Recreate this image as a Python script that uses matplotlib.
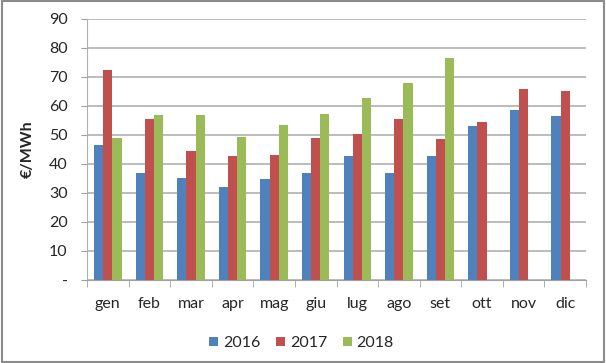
import matplotlib
matplotlib.use("Agg")
import matplotlib.pyplot as plt
import numpy as np
from matplotlib.patches import Rectangle

months = ["gen", "feb", "mar", "apr", "mag", "giu", "lug", "ago", "set", "ott", "nov", "dic"]
v2016 = [46.5, 37.0, 35.1, 32.1, 34.7, 36.8, 42.8, 37.0, 42.8, 53.2, 58.5, 56.5]
v2017 = [72.4, 55.6, 44.5, 42.8, 43.1, 49.0, 50.4, 55.6, 48.7, 54.6, 66.0, 65.2]
v2018 = [49.0, 57.0, 57.0, 49.4, 53.5, 57.3, 62.6, 67.9, 76.6]
series = [("2016", v2016, "#4F81BD"), ("2017", v2017, "#C0504D"), ("2018", v2018, "#9BBB59")]
yticks = [0, 10, 20, 30, 40, 50, 60, 70, 80, 90]
ytick_labels = ["-", "10", "20", "30", "40", "50", "60", "70", "80", "90"]

plt.rcParams['font.family'] = ['Lato', 'DejaVu Sans']
txt = '#262626'

fig = plt.figure(figsize=(6.06, 3.63), dpi=100)
ax = fig.add_axes([0.1436, 0.2287, 0.8234, 0.719])

w = 0.22
x = np.arange(len(months))
for i, (name, vals, col) in enumerate(series):
    xs = x[:len(vals)] + (i - 1) * w
    ax.bar(xs, vals, width=w, color=col, label=name, zorder=3)

ax.set_xlim(-0.5, len(months) - 0.5)
ax.set_ylim(0, 90)
ax.set_yticks(yticks)
ax.set_yticklabels(ytick_labels, fontsize=11.5, color=txt)
ax.set_xticks(x)
ax.set_xticklabels(months, fontsize=11.5, color=txt)
ax.set_xticks(np.arange(-0.5, len(months)), minor=True)
ax.tick_params(axis='x', which='major', length=0, pad=12)
ax.tick_params(axis='x', which='minor', length=5, color='#A0A0A0')
ax.tick_params(axis='y', length=4, color='#A0A0A0', pad=10)
ax.yaxis.grid(True, color='#B0B0B0', linewidth=1.2, zorder=0)
for s in ['top', 'right']:
    ax.spines[s].set_visible(False)
ax.spines['left'].set_color('#B0B0B0')
ax.spines['bottom'].set_color('#A0A0A0')
ax.set_ylabel("€/MWh", fontsize=11.5, fontweight='bold', labelpad=10, color=txt)

ax.legend(loc='upper center', bbox_to_anchor=(0.43, -0.16), ncol=3, frameon=False,
          fontsize=11.5, handlelength=0.55, handleheight=0.55, handletextpad=0.3,
          columnspacing=1.0, labelcolor=txt)

fig.patches.append(Rectangle((0.003, 0.004), 0.994, 0.992, transform=fig.transFigure,
                             fill=False, edgecolor='#8C8C8C', linewidth=1.5))

fig.savefig("out.png", dpi=100)
